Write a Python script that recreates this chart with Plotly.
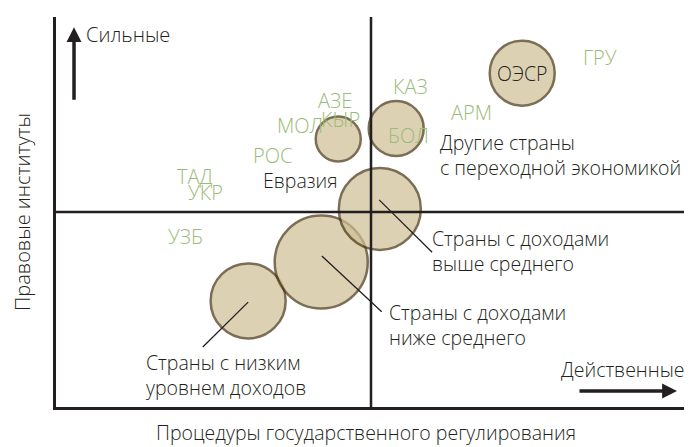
import plotly.graph_objects as go

# ---- data (abstract 0-10 scale; midpoints at 5) ----
group_names = ["Страны с низким<br>уровнем доходов",
               "Страны с доходами<br>ниже среднего",
               "Страны с доходами<br>выше среднего",
               "Евразия",
               "Другие страны<br>с переходной экономикой",
               "ОЭСР"]
group_x = [3.05, 4.21, 5.14, 4.48, 5.40, 7.40]
group_y = [2.72, 3.72, 5.08, 6.87, 7.14, 8.56]
group_size = [75, 93, 82, 45, 55, 65]

# label positions for group names (left-anchored text, OECD centred in its bubble)
label_x = [1.40, 5.25, 5.94, 3.25, 6.06, 7.40]
label_y = [0.81, 2.09, 3.99, 5.82, 6.45, 8.56]

# leader lines for the three income groups
leader_x0 = [3.05, 4.22, 5.13]
leader_y0 = [2.69, 3.87, 5.31]
leader_x1 = [2.33, 5.17, 5.97]
leader_y1 = [1.54, 2.44, 3.97]

country_codes = ["ГРУ", "КАЗ", "АРМ", "БОЛ", "АЗЕ", "КЫР", "МОЛ", "РОС", "ТАД", "УКР", "УЗБ"]
country_x = [8.63, 5.62, 6.59, 5.59, 4.43, 4.52, 3.87, 3.43, 2.21, 2.38, 2.06]
country_y = [8.95, 8.23, 7.54, 6.95, 7.87, 7.36, 7.21, 6.46, 5.90, 5.51, 4.36]

x_title = "Процедуры государственного регулирования"
y_title = "Правовые институты"
y_high = "Сильные"
x_high = "Действенные"
mid_x, mid_y = 5, 5

FONT = "Open Sans"
DARK = "#231f20"
GREEN = "#9bbb78"
FS = 19.5

fig = go.Figure()
fig.add_trace(go.Scatter(
    x=group_x, y=group_y, mode="markers",
    marker=dict(size=group_size, sizemode="diameter", color="rgb(206,192,148)",
                opacity=0.7, line=dict(color="rgb(70,50,15)", width=2.5)),
    hoverinfo="skip", showlegend=False))

# midlines (above markers)
fig.add_shape(type="line", x0=mid_x, x1=mid_x, y0=0, y1=1, xref="x", yref="paper",
              line=dict(color=DARK, width=2.5), layer="above")
fig.add_shape(type="line", x0=0, x1=1, y0=mid_y, y1=mid_y, xref="paper", yref="y",
              line=dict(color=DARK, width=2.5), layer="above")

# leader lines
for x0, y0, x1, y1 in zip(leader_x0, leader_y0, leader_x1, leader_y1):
    fig.add_shape(type="line", x0=x0, y0=y0, x1=x1, y1=y1, xref="x", yref="y",
                  line=dict(color=DARK, width=1.3), layer="above")

# group labels
for name, lx, ly in zip(group_names, label_x, label_y):
    centred = name == "ОЭСР"
    fig.add_annotation(x=lx, y=ly, text=name, showarrow=False,
                       xanchor="center" if centred else "left", yanchor="middle", align="left",
                       font=dict(family=FONT, size=19.5, color=DARK, weight=300))

# country codes
for c, cx, cy in zip(country_codes, country_x, country_y):
    fig.add_annotation(x=cx, y=cy, text=c, showarrow=False, xanchor="center", yanchor="middle",
                       font=dict(family=FONT, size=20, color=GREEN, weight=300))

# axis direction arrows & labels
fig.add_annotation(x=0.0286, y=0.974, xref="paper", yref="paper", text="", showarrow=True,
                   ax=0, ay=74, arrowhead=2, arrowsize=0.85, arrowwidth=3.5, arrowcolor=DARK)
fig.add_annotation(x=0.9857, y=0.041, xref="paper", yref="paper", text="", showarrow=True,
                   ax=-99, ay=0, arrowhead=2, arrowsize=0.85, arrowwidth=3.5, arrowcolor=DARK)
fig.add_annotation(x=0.044, y=0.956, xref="paper", yref="paper", text=y_high, showarrow=False,
                   xanchor="left", yanchor="middle", font=dict(family=FONT, size=20, color=DARK, weight=300))
fig.add_annotation(x=1.0, y=0.095, xref="paper", yref="paper", text=x_high, showarrow=False,
                   xanchor="right", yanchor="middle", font=dict(family=FONT, size=FS, color=DARK, weight=300))

# axis titles
fig.add_annotation(x=0.492, y=-0.066, xref="paper", yref="paper", text=x_title, showarrow=False,
                   xanchor="center", yanchor="middle", font=dict(family=FONT, size=FS, color=DARK, weight=300))
fig.add_annotation(x=-0.054, y=0.5, xref="paper", yref="paper", text=y_title, showarrow=False,
                   textangle=-90, xanchor="center", yanchor="middle",
                   font=dict(family=FONT, size=20, color=DARK, weight=300))

fig.update_xaxes(range=[0, 10], showgrid=False, zeroline=False, showticklabels=False, ticks="",
                 showline=True, linewidth=2.5, linecolor=DARK)
fig.update_yaxes(range=[0, 10], showgrid=False, zeroline=False, showticklabels=False, ticks="",
                 showline=True, linewidth=2.5, linecolor=DARK)
# the page body adds an 8px margin, so the figure is 8px smaller on each axis
fig.update_layout(width=684, height=439, margin=dict(l=48, r=6, t=9, b=40),
                  plot_bgcolor="white", paper_bgcolor="white",
                  font=dict(family=FONT, weight=300))
fig.write_html("out.html")
